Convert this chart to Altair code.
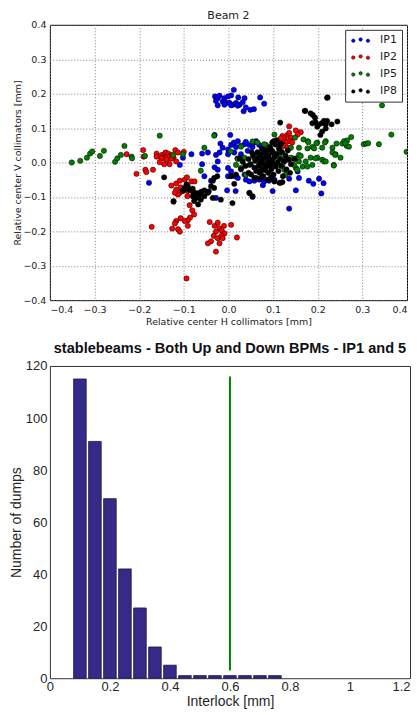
import altair as alt
import pandas as pd

# ---------------- Top panel data (Beam 2) ----------------
ip1_x = [-0.030, -0.024, -0.028, -0.020, -0.009, -0.001, 0.006, 0.012, 0.022, 0.036, -0.013, -0.005, 0.002, 0.010,
         0.017, 0.025, 0.032, -0.024, -0.009, 0.006, 0.021, 0.034, 0.049, 0.057, 0.071, 0.080, 0.039,
         -0.083, -0.059, -0.031, -0.028, -0.018, -0.013, -0.001, 0.004, 0.006, 0.012, 0.017, 0.021, 0.028, 0.036,
         0.039, 0.047, 0.054, 0.058, 0.062, 0.069, 0.080, -0.001, 0.013, 0.028, 0.043, -0.020, -0.046, -0.102,
         -0.059, -0.031, -0.024, -0.001, 0.006, 0.015, 0.021, 0.036, 0.039, 0.047, 0.058, 0.069, 0.080, 0.091,
         0.103, 0.117, 0.136, 0.151, 0.158, 0.180, 0.190, 0.203, 0.208, 0.213, 0.136, 0.077, 0.099, 0.047, 0.054,
         -0.001, 0.016, -0.003, -0.028, -0.109, -0.178, -0.039, -0.054, -0.024, 0.125, 0.095, 0.155, 0.065]
ip1_y = [0.192, 0.187, 0.179, 0.194, 0.187, 0.192, 0.195, 0.211, 0.189, 0.187, 0.177, 0.173, 0.174, 0.168,
         0.173, 0.168, 0.175, 0.166, 0.168, 0.166, 0.165, 0.149, 0.153, 0.155, 0.189, 0.171, 0.160,
         0.024, 0.026, 0.080, 0.022, 0.055, 0.043, 0.038, 0.080, 0.051, 0.058, 0.045, 0.062, 0.048, 0.053,
         0.060, 0.051, 0.045, 0.058, 0.062, 0.051, 0.038, 0.024, 0.029, 0.024, 0.034, 0.029, 0.029, 0.014,
         -0.005, -0.014, -0.021, -0.016, -0.026, -0.040, -0.045, -0.035, -0.050, -0.055, -0.053, -0.050, -0.055, -0.053,
         -0.050, -0.059, -0.047, -0.081, -0.045, -0.053, -0.062, -0.047, -0.090, -0.060, -0.134, -0.066, -0.083, -0.088, -0.100,
         -0.040, -0.083, -0.081, -0.103, -0.007, -0.059, -0.053, -0.040, 0.003, 0.003, -0.007, -0.026, -0.021]

ip2_x = [-0.191, -0.190, -0.228, -0.161, -0.149, -0.141, -0.135, -0.128, -0.119, -0.113, -0.100, -0.148, -0.139,
         -0.132, -0.123, -0.206, -0.186, -0.184, -0.169, -0.161, -0.150, -0.139, -0.128, -0.117, -0.144, -0.154, -0.132,
         -0.128, -0.117, -0.109, -0.098, -0.093, -0.083, -0.076, -0.117, -0.109, -0.113, -0.102, -0.091, -0.107, -0.120,
         -0.123, -0.087, -0.081, -0.077, -0.086, -0.091, -0.098, -0.107, -0.117, -0.120, -0.126, -0.113, -0.109, -0.091,
         -0.172, -0.092,
         -0.042, -0.031, -0.024, -0.020, -0.015, -0.010, -0.009, -0.028, -0.033, -0.024, -0.016, -0.013, -0.039, -0.020,
         -0.046, -0.028, 0.006, 0.019, -0.094,
         0.121, 0.126, 0.132, 0.136, 0.140, 0.123, 0.131, 0.138, 0.143, 0.126, 0.136, 0.151, 0.162, 0.155, 0.132, 0.117]
ip2_y = [0.036, 0.017, 0.024, 0.026, 0.022, 0.029, 0.026, 0.022, 0.036, 0.029, 0.031, 0.014, 0.014,
         0.016, 0.014, -0.033, -0.021, -0.028, -0.021, 0.017, 0.012, 0.008, 0.011, 0.003, -0.005, 0.001, -0.005,
         -0.067, -0.061, -0.053, -0.050, -0.043, -0.055, -0.055, -0.079, -0.088, -0.093, -0.083, -0.083, -0.072, -0.088,
         -0.112, -0.124, -0.139, -0.151, -0.160, -0.168, -0.170, -0.162, -0.170, -0.177, -0.192, -0.194, -0.201, -0.184,
         -0.187, -0.098,
         -0.173, -0.184, -0.175, -0.191, -0.198, -0.184, -0.206, -0.201, -0.213, -0.220, -0.213, -0.220, -0.229, -0.235,
         -0.235, -0.259, -0.181, -0.218, -0.337,
         0.077, 0.072, 0.080, 0.086, 0.072, 0.062, 0.060, 0.062, 0.058, 0.048, 0.105, 0.093, 0.088, 0.081, 0.043, 0.070]

ip5_x = [-0.351, -0.332, -0.317, -0.310, -0.305, -0.288, -0.279, -0.254, -0.249, -0.241, -0.233, -0.217, -0.216,
         -0.187, -0.154, -0.124, -0.102, -0.032, -0.054, -0.062, 0.054, 0.020, 0.017, 0.039, 0.047, 0.061, 0.076,
         0.099, 0.114, 0.099, 0.121, 0.128, 0.151, 0.143, 0.158, 0.028, 0.005, 0.084, 0.069,
         0.065, 0.080, 0.103, 0.116, 0.140, 0.149, 0.158, 0.168, 0.178, 0.188, 0.199, 0.210, 0.218, 0.233, 0.242,
         0.255, 0.259, 0.265, 0.275, 0.266, 0.303, 0.309, 0.313, 0.337, 0.344, 0.365, 0.399, 0.233, 0.199, 0.184,
         0.162, 0.140, 0.125, 0.103, 0.077, 0.058, 0.036, 0.021, 0.251, 0.240, 0.262, 0.270, 0.239, 0.236, 0.216,
         0.197, 0.179, 0.192, 0.177, 0.210, 0.214, 0.195, 0.173, 0.166, 0.158, 0.151, 0.177, 0.188, 0.154,
         0.028, 0.073, 0.095, 0.125, 0.147, 0.236, 0.218]
ip5_y = [0.000, 0.005, 0.014, 0.026, 0.032, 0.019, 0.034, 0.002, 0.012, 0.022, 0.048, 0.017, 0.012,
         0.019, 0.078, 0.021, 0.024, 0.078, 0.043, -0.024, 0.061, 0.012, -0.007, -0.036, -0.007, 0.022, 0.032,
         0.032, 0.022, 0.003, -0.007, -0.036, -0.016, 0.012, 0.022, 0.046, 0.032, 0.051, -0.021,
         0.058, 0.053, 0.081, 0.038, 0.043, 0.072, 0.043, 0.067, 0.062, 0.045, 0.058, 0.043, 0.062, 0.043, 0.055,
         0.055, 0.062, 0.048, 0.074, 0.064, 0.053, 0.055, 0.056, 0.053, 0.166, 0.081, 0.031, 0.029, 0.014, 0.014,
         0.019, 0.014, 0.012, 0.024, 0.024, 0.014, 0.014, 0.010, 0.014, 0.024, 0.056, 0.046, 0.022, -0.007, 0.058,
         0.056, 0.059, 0.041, 0.041, 0.008, 0.003, 0.012, 0.003, -0.012, 0.003, 0.012, -0.012, -0.007, -0.021,
         -0.016, -0.026, -0.034, -0.021, -0.007, -0.009, 0.003]

ip8_x = [0.221, 0.172, 0.184, 0.189, 0.194, 0.188, 0.195, 0.201, 0.209, 0.214, 0.218, 0.221, 0.231, 0.244, 0.218,
         0.210, 0.206, 0.199, 0.171, 0.116, 0.222,
         -0.091, -0.099, -0.080, -0.069, -0.062, -0.054, -0.044, -0.035, -0.032, -0.017, 0.009, 0.047, 0.054, -0.032,
         -0.098, -0.094, -0.087, -0.080, -0.076, -0.068, -0.061, -0.054, -0.046, -0.080, -0.072, -0.065, -0.039, -0.035,
         -0.025, 0.006, 0.013, 0.017, 0.051, 0.058, 0.073, 0.088, 0.103, 0.114, 0.121, -0.068, -0.077, -0.102, -0.144,
         -0.123,
         0.045, 0.050, 0.055, 0.058, 0.060, 0.062, 0.065, 0.066, 0.068, 0.070, 0.071, 0.072, 0.074, 0.075, 0.077,
         0.078, 0.080, 0.081, 0.082, 0.084, 0.085, 0.087, 0.088, 0.089, 0.090, 0.092, 0.093, 0.095, 0.096, 0.098,
         0.100, 0.101, 0.103, 0.105, 0.106, 0.108, 0.110, 0.112, 0.113, 0.115, 0.118, 0.120, 0.122, 0.125, 0.128,
         0.130, 0.135, 0.140, 0.038, 0.032, 0.028, 0.025, 0.062, 0.095, 0.108, 0.098, 0.052, 0.045, 0.133, 0.138,
         0.118, 0.148, 0.116, 0.095, 0.101]
ip8_y = [0.188, 0.150, 0.143, 0.138, 0.130, 0.114, 0.117, 0.109, 0.114, 0.121, 0.111, 0.121, 0.111, 0.119, 0.099,
         0.090, 0.080, 0.104, 0.150, 0.116, 0.189,
         -0.069, -0.079, -0.084, -0.089, -0.108, -0.098, -0.084, -0.103, -0.074, -0.108, -0.118, -0.089, -0.098, -0.045,
         -0.074, -0.064, -0.079, -0.076, -0.088, -0.091, -0.085, -0.081, -0.088, -0.098, -0.103, -0.093, -0.069, -0.053,
         -0.040, -0.040, -0.062, -0.035, -0.035, -0.045, -0.045, -0.050, -0.055, -0.059, -0.057, -0.122, -0.112, -0.081,
         -0.043, -0.114,
         0.010, -0.005, 0.020, -0.015, 0.005, -0.025, 0.030, 0.012, -0.008, -0.030, 0.022, 0.000, -0.018, 0.040, 0.010,
         -0.040, -0.005, 0.028, -0.022, 0.015, -0.012, 0.035, 0.002, -0.030, 0.020, -0.008, 0.045, 0.008, -0.020, 0.030,
         -0.002, -0.035, 0.015, 0.052, -0.012, 0.025, 0.000, -0.025, 0.040, 0.010, -0.010, 0.030, -0.040, 0.005, 0.020,
         -0.020, 0.008, -0.005, -0.010, 0.002, -0.020, 0.012, -0.045, -0.045, 0.065, 0.058, 0.030, -0.030, 0.035, -0.030,
         0.055, 0.010, 0.053, 0.038, 0.062]

series_names = ["IP1", "IP2", "IP5", "IP8"]
series_colors = ["#0000ff", "#ff0000", "#008000", "#000000"]

# ---------------- Bottom panel data ----------------
bin_centers = [0.10, 0.15, 0.20, 0.25, 0.30, 0.35, 0.40, 0.45, 0.50, 0.55, 0.60, 0.65, 0.70, 0.75]
dump_counts = [115, 91, 69, 42, 27, 12, 5, 1, 1, 1, 1, 1, 1, 1]
interlock_level = [0.6]
interlock_span = [3, 116]

rows = []
k = 0
for name, xs, ys in zip(series_names, [ip1_x, ip2_x, ip5_x, ip8_x], [ip1_y, ip2_y, ip5_y, ip8_y]):
    for xv, yv in zip(xs, ys):
        rows.append({"h": xv, "v": yv, "series": name, "idx": k})
        k += 1
df_pts = pd.DataFrame(rows)

df_bars = pd.DataFrame({"center": bin_centers, "count": dump_counts})
df_line = pd.DataFrame({"x": interlock_level, "y0": [interlock_span[0]], "y1": [interlock_span[1]]})

tick_vals = [-0.4, -0.3, -0.2, -0.1, 0.0, 0.1, 0.2, 0.3, 0.4]
top_font = "DejaVu Sans"

top_axis = dict(format=".1f", values=tick_vals, grid=True, gridDash=[1, 2], gridColor="#808080",
                gridWidth=1, domain=False, ticks=False, labelFont=top_font, labelFontSize=9.5,
                labelColor="#222222", titleFont=top_font, titleFontSize=9.5, titleFontWeight="normal",
                titleColor="#222222", labelPadding=4)

# three-dot legend glyph (matplotlib scatterpoints=3 look)
def _dot(cx, cy, r):
    return f"M{cx - r},{cy} a{r},{r} 0 1,0 {2 * r},0 a{r},{r} 0 1,0 {-2 * r},0 Z "

three_dots = _dot(-2.1, 0.1, 0.5) + _dot(0.0, -0.25, 0.5) + _dot(2.1, 0.15, 0.5)

top = alt.Chart(df_pts).mark_circle(size=28, stroke="black", strokeWidth=0.5, opacity=1, clip=True).encode(
    x=alt.X("h:Q", scale=alt.Scale(domain=[-0.4, 0.4], nice=False, zero=False),
            axis=alt.Axis(title="Relative center H collimators [mm]", titlePadding=3, **top_axis)),
    y=alt.Y("v:Q", scale=alt.Scale(domain=[-0.4, 0.4], nice=False, zero=False),
            axis=alt.Axis(title="Relative center V collimators [mm]", titlePadding=0, **top_axis)),
    color=alt.Color("series:N", scale=alt.Scale(domain=series_names, range=series_colors),
                    legend=alt.Legend(title=None, orient="top-right", offset=5, padding=5,
                                      strokeColor="#333333", fillColor="white", symbolType=three_dots,
                                      symbolSize=49, symbolStrokeColor="black", symbolStrokeWidth=0.5,
                                      symbolOffset=5, labelOffset=14,
                                      labelFont=top_font, labelFontSize=11, labelColor="#222222",
                                      rowPadding=5, symbolOpacity=1)),
    order=alt.Order("idx:Q"),
).properties(
    width=358, height=276,
    title=alt.TitleParams("Beam 2", font=top_font, fontSize=11, fontWeight="normal", color="#222222",
                          offset=-1, frame="group"),
    view=alt.ViewBackground(stroke="black", strokeWidth=1),
)

bot_font = "Liberation Sans"
bot_axis = dict(domain=False, ticks=False, grid=False, labelFont=bot_font, labelFontSize=13,
                labelColor="#262626", titleFont=bot_font, titleFontSize=14, titleFontWeight="normal",
                titleColor="#262626")

bars = alt.Chart(df_bars).transform_calculate(
    lo="datum.center - 0.021", hi="datum.center + 0.021"
).mark_bar(color="#352a87", stroke="#1a1a3a", strokeWidth=0.8).encode(
    x=alt.X("lo:Q", scale=alt.Scale(domain=[0, 1.2], nice=False),
            axis=alt.Axis(title="Interlock [mm]", values=[0, 0.2, 0.4, 0.6, 0.8, 1.0, 1.2], format="~g",
                          labelAlign=alt.expr("datum.value >= 1.2 ? 'right' : 'center'"),
                          labelPadding=2, titlePadding=1, **bot_axis)),
    x2="hi:Q",
    y=alt.Y("count:Q", scale=alt.Scale(domain=[0, 120], nice=False),
            axis=alt.Axis(title="Number of dumps", values=[0, 20, 40, 60, 80, 100, 120],
                          labelPadding=3, titlePadding=2, **bot_axis)),
    y2=alt.datum(0),
)

rule = alt.Chart(df_line).mark_rule(color="#008000", strokeWidth=2).encode(
    x="x:Q", y="y0:Q", y2="y1:Q"
)

bottom = alt.layer(bars, rule).properties(
    width=361, height=313,
    title=alt.TitleParams("stablebeams - Both Up and Down BPMs - IP1 and 5", font=bot_font, fontSize=14.6,
                          fontWeight="bold", color="#111111", offset=4, frame="group"),
    view=alt.ViewBackground(stroke="#333333", strokeWidth=1),
)

chart = alt.vconcat(top, bottom, spacing=13).resolve_legend(color="independent").properties(
    padding=0).configure(background="white")

chart.save("out.html", embed_options={"renderer": "svg", "actions": False})
